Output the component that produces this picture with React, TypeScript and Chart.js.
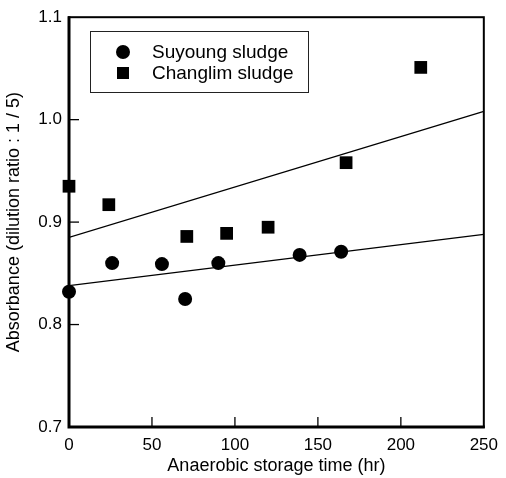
import React, { useEffect, useRef } from "react";
import { Chart, registerables } from "chart.js";

Chart.register(...registerables);

const suyoungTime = [0, 26, 56, 70, 90, 139, 164];
const suyoungAbs = [0.832, 0.86, 0.859, 0.825, 0.86, 0.868, 0.871];
const changlimTime = [0, 24, 71, 95, 120, 167, 212];
const changlimAbs = [0.935, 0.917, 0.886, 0.889, 0.895, 0.958, 1.051];
const fitTime = [0, 250];
const suyoungFit = [0.838, 0.888];
const changlimFit = [0.885, 1.008];
const xTicks = [0, 50, 100, 150, 200, 250];
const yTicks = [0.7, 0.8, 0.9, 1.0, 1.1];
const seriesNames = ["Suyoung sludge", "Changlim sludge"];
const xTitle = "Anaerobic storage time (hr)";
const yTitle = "Absorbance (dilution ratio : 1 / 5)";

const FONT = "'Liberation Sans', Arial, sans-serif";
const FS = 17;
const FT = 18;

const pts = (xs: number[], ys: number[]) => xs.map((x, i) => ({ x, y: ys[i] }));

const framePlugin = {
  id: "frameTicks",
  afterDraw(chart: any) {
    const { ctx, chartArea: a, scales } = chart;
    ctx.save();
    ctx.strokeStyle = "#000";
    ctx.lineWidth = 2;
    ctx.strokeRect(a.left, a.top, a.right - a.left, a.bottom - a.top);
    ctx.lineWidth = 3;
    ctx.beginPath();
    ctx.moveTo(a.left, a.top - 1);
    ctx.lineTo(a.left, a.bottom);
    ctx.lineTo(a.right + 1, a.bottom);
    ctx.stroke();
    ctx.lineWidth = 1.3;
    const tl = 10;
    scales.y.ticks.forEach((t: any) => {
      const py = scales.y.getPixelForValue(t.value);
      if (Math.abs(py - a.top) < 2 || Math.abs(py - a.bottom) < 2) return;
      ctx.beginPath();
      ctx.moveTo(a.left, py);
      ctx.lineTo(a.left + tl, py);
      ctx.stroke();
    });
    scales.x.ticks.forEach((t: any) => {
      const px = scales.x.getPixelForValue(t.value);
      if (Math.abs(px - a.left) < 2 || Math.abs(px - a.right) < 2) return;
      ctx.beginPath();
      ctx.moveTo(px, a.bottom);
      ctx.lineTo(px, a.bottom - tl);
      ctx.stroke();
    });
    ctx.restore();
  },
};

const legendPlugin = {
  id: "boxLegend",
  afterDraw(chart: any) {
    const { ctx } = chart;
    const bx = 90, by = 31, bw = 218, bh = 61;
    ctx.save();
    ctx.fillStyle = "#fff";
    ctx.fillRect(bx, by, bw, bh);
    ctx.strokeStyle = "#222";
    ctx.lineWidth = 1;
    ctx.strokeRect(bx + 0.5, by + 0.5, bw, bh);
    ctx.font = `${FT + 1}px ${FONT}`;
    ctx.textBaseline = "middle";
    ctx.textAlign = "left";
    const rows = [52, 73];
    chart.data.datasets.slice(0, 2).forEach((ds: any, i: number) => {
      const cy = rows[i];
      const cx = 123;
      ctx.fillStyle = "#000";
      if (ds.pointStyle === "circle") {
        ctx.beginPath();
        ctx.arc(cx, cy, 7, 0, Math.PI * 2);
        ctx.fill();
      } else {
        ctx.fillRect(cx - 6, cy - 6, 12, 12);
      }
      ctx.fillText(ds.label, 152, cy + 1);
    });
    ctx.restore();
  },
};

export default function App() {
  const ref = useRef<HTMLCanvasElement | null>(null);
  useEffect(() => {
    if (!ref.current) return;
    const chart = new Chart(ref.current, {
      type: "scatter",
      data: {
        datasets: [
          {
            label: seriesNames[0],
            data: pts(suyoungTime, suyoungAbs),
            pointStyle: "circle",
            pointRadius: 7,
            backgroundColor: "#000",
            borderColor: "#000",
            borderWidth: 0,
            clip: false,
          } as any,
          {
            label: seriesNames[1],
            data: pts(changlimTime, changlimAbs),
            pointStyle: "rect",
            pointRadius: 9,
            backgroundColor: "#000",
            borderColor: "#000",
            borderWidth: 0,
            clip: false,
          } as any,
          {
            label: "fit1",
            data: pts(fitTime, suyoungFit),
            showLine: true,
            pointRadius: 0,
            borderColor: "#000",
            borderWidth: 1.3,
          } as any,
          {
            label: "fit2",
            data: pts(fitTime, changlimFit),
            showLine: true,
            pointRadius: 0,
            borderColor: "#000",
            borderWidth: 1.3,
          } as any,
        ],
      },
      options: {
        animation: false,
        responsive: false,
        layout: { padding: { top: 11, right: 15, left: 0, bottom: 0 } },
        plugins: { legend: { display: false }, tooltip: { enabled: false } },
        scales: {
          x: {
            type: "linear",
            min: 0,
            max: 250,
            afterFit: (s: any) => {
              s.height = 51;
            },
            afterBuildTicks: (s: any) => {
              s.ticks = xTicks.map((v) => ({ value: v }));
            },
            grid: { display: false, drawTicks: false },
            border: { display: false },
            ticks: {
              padding: 8,
              color: "#000",
              font: { family: FONT, size: FS },
              callback: (v: any) => String(v),
            },
            title: {
              display: true,
              text: xTitle,
              color: "#000",
              font: { family: FONT, size: FT },
              padding: { top: 0, bottom: 1 },
            },
          },
          y: {
            type: "linear",
            min: 0.7,
            max: 1.1,
            afterFit: (s: any) => {
              s.width = 69;
            },
            afterBuildTicks: (s: any) => {
              s.ticks = yTicks.map((v) => ({ value: v }));
            },
            grid: { display: false, drawTicks: false },
            border: { display: false },
            ticks: {
              padding: 7,
              color: "#000",
              font: { family: FONT, size: FS },
              callback: (v: any) => Number(v).toFixed(1),
            },
            title: {
              display: true,
              text: yTitle,
              color: "#000",
              font: { family: FONT, size: FT },
              padding: { top: 3, bottom: 0 },
            },
          },
        },
      },
      plugins: [framePlugin, legendPlugin],
    });
    return () => chart.destroy();
  }, []);
  return (
    <div style={{ position: "absolute", left: 0, top: 0, width: 506, height: 478, background: "#fff" }}>
      <canvas ref={ref} width={506} height={478} style={{ display: "block" }} />
    </div>
  );
}
